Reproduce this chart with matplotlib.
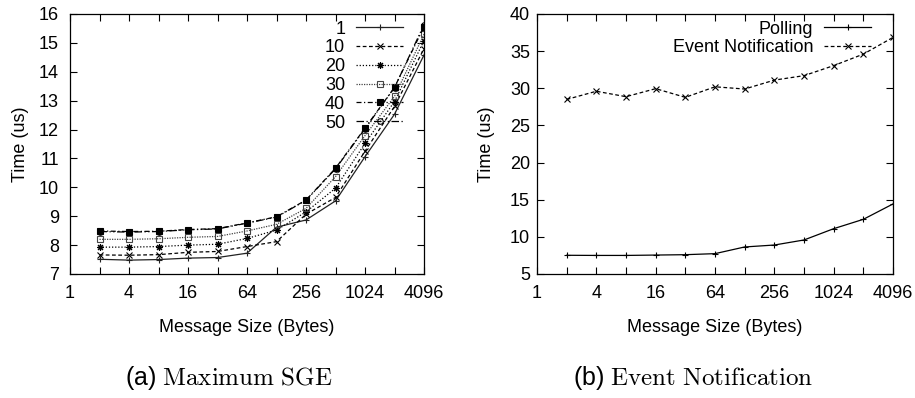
import matplotlib
matplotlib.use("Agg")
import matplotlib.pyplot as plt
from matplotlib.ticker import FixedLocator, NullFormatter

plt.rcParams['font.family'] = ['Liberation Sans', 'DejaVu Sans']
plt.rcParams['mathtext.fontset'] = 'cm'

sizes = [2, 4, 8, 16, 32, 64, 128, 256, 512, 1024, 2048, 4096]
tick_vals = [1, 4, 16, 64, 256, 1024, 4096]
tick_labels = ['1', '4', '16', '64', '256', '1024', '4096']

sge_labels = ['1', '10', '20', '30', '40', '50']
sge_1 = [7.51, 7.48, 7.50, 7.55, 7.57, 7.72, 8.62, 8.87, 9.53, 11.06, 12.53, 14.58]
sge_10 = [7.66, 7.65, 7.67, 7.75, 7.78, 7.95, 8.12, 9.07, 9.65, 11.25, 12.80, 14.80]
sge_20 = [7.93, 7.93, 7.95, 8.00, 8.03, 8.23, 8.52, 9.15, 9.97, 11.52, 12.97, 15.08]
sge_30 = [8.20, 8.20, 8.22, 8.27, 8.30, 8.49, 8.72, 9.27, 10.37, 11.79, 13.15, 15.30]
sge_40 = [8.49, 8.47, 8.48, 8.54, 8.57, 8.77, 8.98, 9.56, 10.66, 12.05, 13.46, 15.56]
sge_50 = [8.47, 8.45, 8.47, 8.53, 8.56, 8.76, 8.97, 9.55, 10.64, 12.03, 13.45, 15.63]

notif_labels = ['Polling', 'Event Notification']
polling = [7.52, 7.50, 7.50, 7.55, 7.60, 7.74, 8.64, 8.90, 9.58, 11.10, 12.36, 14.43]
event = [28.5, 29.6, 28.87, 29.95, 28.78, 30.2, 29.9, 31.1, 31.7, 33.05, 34.6, 36.85]

captions = ['(a) $\\mathrm{Maximum\\ SGE}$', '(b) $\\mathrm{Event\\ Notification}$']

FS = 13
fig = plt.figure(figsize=(9.15, 3.98), dpi=100)
axL = fig.add_axes([70/915, 124/398, 354/915, 260/398])
axR = fig.add_axes([537/915, 124/398, 356/915, 260/398])

styles = [
    dict(marker='+', ls='-', color='#222222', ms=5, mfc='none'),
    dict(marker='x', ls=(0, (3, 2)), color='black', ms=4, mfc='none'),
    dict(marker=(8, 2, 0), ls=(0, (1, 1.5)), color='black', ms=5, mfc='none'),
    dict(marker='s', ls=(0, (1, 1)), color='#444444', ms=4, mfc='none'),
    dict(marker='s', ls=(0, (4, 2, 1, 2)), color='black', ms=4, mfc='black'),
    dict(marker='o', ls=(0, (6, 2, 1, 2, 1, 2)), color='black', ms=4, mfc='none'),
]
series = [sge_1, sge_10, sge_20, sge_30, sge_40, sge_50]
for lab, ys, st in zip(sge_labels, series, styles):
    axL.plot(sizes, ys, label=lab, lw=0.9, mew=0.8, **st)

axR.plot(sizes, polling, label=notif_labels[0], lw=0.9, mew=0.8, marker='+', ls='-', color='black', ms=5)
axR.plot(sizes, event, label=notif_labels[1], lw=0.9, mew=0.8, marker='x', ls=(0, (3, 2)), color='black', ms=4)

for ax in (axL, axR):
    ax.set_xscale('log', base=2)
    ax.set_xlim(1, 4096)
    ax.xaxis.set_major_locator(FixedLocator(tick_vals))
    ax.set_xticklabels(tick_labels)
    ax.xaxis.set_minor_locator(FixedLocator([2, 8, 32, 128, 512, 2048]))
    ax.xaxis.set_minor_formatter(NullFormatter())
    ax.tick_params(which='both', direction='in', top=True, right=True, length=5, width=0.8, labelsize=FS)
    ax.tick_params(axis='x', pad=8)
    ax.set_xlabel('Message Size (Bytes)', fontsize=FS)
    ax.set_ylabel('Time (us)', fontsize=FS)
    ax.xaxis.set_label_coords(0.5, -0.205)
    ax.xaxis.label.set_va('center')
    ax.yaxis.set_label_coords(-0.141, 0.5)
    ax.yaxis.label.set_va('center')
    for s in ax.spines.values():
        s.set_linewidth(0.9)

axL.set_ylim(7, 16)
axL.set_yticks(range(7, 17))
axL.tick_params(axis='y', pad=8)
axR.set_ylim(5, 40)
axR.set_yticks(range(5, 41, 5))
axR.tick_params(axis='y', pad=5)

legL = axL.legend(loc='upper right', bbox_to_anchor=((403-70)/354, 0.975), frameon=False,
                  markerfirst=False, fontsize=FS, handlelength=2.6, handletextpad=0.6,
                  labelspacing=0.1, borderpad=0, borderaxespad=0)
legL._legend_box.align = 'right'

legR = axR.legend(loc='upper right', bbox_to_anchor=((871-537)/356, 0.975), frameon=False,
                  markerfirst=False, fontsize=FS, handlelength=2.6, handletextpad=0.6,
                  labelspacing=0.1, borderpad=0, borderaxespad=0)
legR._legend_box.align = 'right'

fig.text(229/915, 1-378/398, captions[0], ha='center', va='center', fontsize=18)
fig.text(693/915, 1-378/398, captions[1], ha='center', va='center', fontsize=18)

fig.savefig('out.png', dpi=100)
